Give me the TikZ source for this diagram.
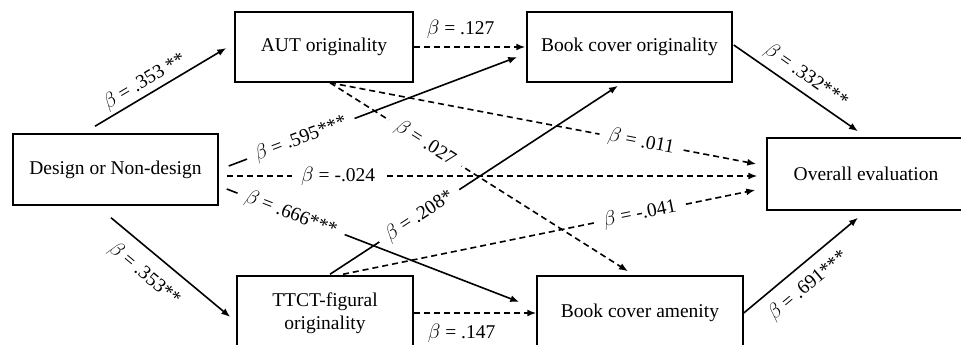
\documentclass[tikz,border=0pt]{standalone}
\usepackage{fontspec}
\setmainfont{Liberation Serif}
\usepackage{tikz}
\usetikzlibrary{arrows.meta}
\tikzstyle{box}=[rectangle,draw,line width=1.5pt,inner sep=0pt,align=center,font=\fontsize{19.5}{23}\selectfont]
\tikzstyle{weight}=[font=\fontsize{19.5}{23}\selectfont,inner sep=2pt]
\tikzstyle{online}=[weight,sloped,fill=white,inner xsep=9pt]
\tikzstyle{sig}=[line width=1.6pt,-{Latex[length=9pt,width=7pt]}]
\tikzstyle{nonsig}=[sig,dash pattern=on 6pt off 4pt]

\begin{document}
\begin{tikzpicture}[x=1pt,y=-1pt]
\useasboundingbox (0,0) rectangle (961,345);
\clip (0,0) rectangle (961,345);

%variables
    \foreach \pos/\name/\w/\h/\label in {{(115.5,169.5)/design/205/71/Design or Non-design}, {(324,47)/aut/178/70/AUT originality}, {(629.5,47)/bco/205/70/Book cover originality}, {(866,174)/overall/198/72/Overall evaluation}, {(325,313)/ttct/176/74/{TTCT-figural\\originality}}, {(640,313)/bca/206/74/Book cover amenity}}
        \node[box, minimum width=\w pt, minimum height=\h pt] (\name) at \pos {\label};

%paths, label on the line
  \draw[nonsig] ([xshift=6]aut.south) -- node[online,pos=.73] {$\beta$ = .011} ([xshift=-10,yshift=10]overall.west);
  \draw[nonsig] ([xshift=6]aut.south) -- node[online,pos=.32] {$\beta$ = .027} ([xshift=-12,yshift=4]bca.north);
  \draw[nonsig] ([xshift=18,yshift=1]ttct.north) -- node[online,pos=.72] {$\beta$ = -.041} ([xshift=-11,yshift=-16]overall.west);
  \draw[sig] ([xshift=5,yshift=1]ttct.north) -- node[online,pos=.31] {$\beta$ = .208*} ([xshift=-11.5,yshift=-3]bco.south);
  \draw[sig] ([xshift=10,yshift=3.5]design.east) -- node[online,pos=.25] {$\beta$ = .595***} ([xshift=-9,yshift=-10]bco.west);
  \draw[sig] ([xshift=8,yshift=-19.5]design.east) -- node[online,pos=.22] {$\beta$ = .666***} ([xshift=-17,yshift=11]bca.west);
  \draw[nonsig] ([xshift=8,yshift=-6.5]design.east) -- node[online,pos=.21] {$\beta$ = -.024} ([xshift=-9,yshift=-2]overall.west);

%paths, label beside
  \draw[sig] ([xshift=-20.5,yshift=7]design.north) -- node[weight,sloped,above=1pt,pos=.43] {$\beta$ = .353 **} ([xshift=-8,yshift=-1]aut.west);
  \draw[sig] ([xshift=-4.5,yshift=-12]design.south) -- node[weight,sloped,below=10pt,pos=.40] {$\beta$ = .353**} ([xshift=-6,yshift=-4]ttct.west);
  \draw[nonsig] (aut.east) -- node[weight,above=6pt,pos=.42] {$\beta$ = .127} ([xshift=-1]bco.west);
  \draw[nonsig] (ttct.east) -- node[weight,below=8pt,pos=.39] {$\beta$ = .147} (bca.west);
  \draw[sig] ([xshift=1,yshift=2]bco.east) -- node[weight,sloped,above=4pt,pos=.51] {$\beta$ = .332***} ([xshift=-8,yshift=6]overall.north);
  \draw[sig] (bca.east) -- node[weight,sloped,below=8pt,pos=.45] {$\beta$ = .691***} ([xshift=-8,yshift=-7]overall.south);

\end{tikzpicture}
\end{document}
